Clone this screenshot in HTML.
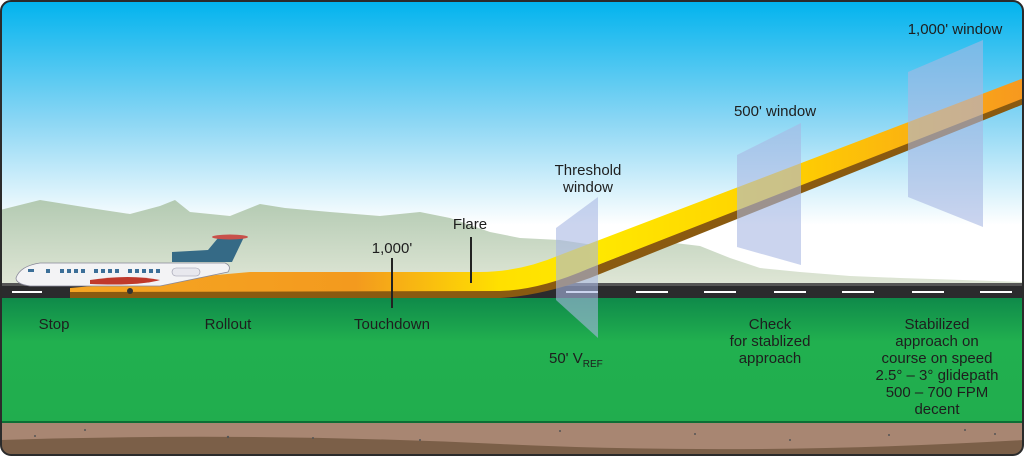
<!DOCTYPE html>
<html><head><meta charset="utf-8"><style>
html,body{margin:0;padding:0;background:#fff}
svg{display:block}
text{font-family:"Liberation Sans",sans-serif;font-size:15px;fill:#1e1e1e}
</style></head><body>
<svg width="1024" height="456" viewBox="0 0 1024 456" xmlns="http://www.w3.org/2000/svg">
<defs>
<linearGradient id="sky" x1="0" y1="0" x2="0" y2="1">
<stop offset="0" stop-color="#00b3ee"/><stop offset="0.4" stop-color="#8ad6f4"/><stop offset="0.75" stop-color="#ffffff"/><stop offset="1" stop-color="#ffffff"/></linearGradient>
<linearGradient id="grass" x1="0" y1="0" x2="0" y2="1">
<stop offset="0" stop-color="#0f8a4a"/><stop offset="0.35" stop-color="#21b04f"/><stop offset="1" stop-color="#21ad4e"/></linearGradient>
<linearGradient id="hill" x1="0" y1="0" x2="0" y2="1">
<stop offset="0" stop-color="#b3cab2"/><stop offset="1" stop-color="#e2e8d8"/></linearGradient>
<linearGradient id="path" x1="0" y1="0" x2="1" y2="0">
<stop offset="0" stop-color="#f6a623"/><stop offset="0.3" stop-color="#f39a1e"/><stop offset="0.45" stop-color="#ffe000"/><stop offset="0.55" stop-color="#ffe800"/><stop offset="0.75" stop-color="#ffd000"/><stop offset="1" stop-color="#f7981f"/></linearGradient>
<clipPath id="c"><rect x="1" y="1" width="1022" height="454" rx="10"/></clipPath>
</defs>
<g clip-path="url(#c)">
<rect width="1024" height="300" fill="url(#sky)"/>
<path d="M0 210 L40 200 L90 208 L130 214 L160 206 L175 200 L190 212 L230 216 L260 204 L285 208 L330 212 L380 216 L420 212 L450 218 L490 232 L520 238 L560 240 L600 246 L650 240 L700 246 L730 258 L760 268 L800 272 L850 276 L900 278 L1024 282 L1024 290 L0 290Z" fill="url(#hill)"/>
<rect x="0" y="283" width="1024" height="16" fill="#2b2b2d"/>
<rect x="0" y="283" width="1024" height="3" fill="#555"/>
<g stroke="#fff" stroke-width="2">
<line x1="12" y1="292" x2="42" y2="292"/>
<path d="M566 292h32M636 292h32M704 292h32M774 292h32M842 292h32M912 292h32M980 292h32" />
</g>
<rect x="0" y="298" width="1024" height="125" fill="url(#grass)"/>
<rect x="0" y="421" width="1024" height="3" fill="#0c6e35"/>
<rect x="0" y="423" width="1024" height="33" fill="#a88672"/>
<path d="M0 440 Q250 432 500 444 T1024 440 L1024 456 L0 456Z" fill="#7b5f48"/>
<g fill="#555"><circle cx="35" cy="436" r="1"/><circle cx="85" cy="430" r="1"/><circle cx="228" cy="437" r="1.2"/><circle cx="313" cy="438" r="1"/><circle cx="420" cy="440" r="1"/><circle cx="560" cy="431" r="1"/><circle cx="695" cy="434" r="1"/><circle cx="790" cy="440" r="1"/><circle cx="889" cy="435" r="1"/><circle cx="965" cy="430" r="1"/><circle cx="995" cy="434" r="1"/></g>
<path d="M70 298 L500 298 Q540 296 590 278 L1024 104 L1024 96 L590 268 Q540 288 500 290 L70 290Z" fill="#8a5a10"/>
<path d="M70 288 L250 272 L480 272 Q520 272 560 255 L1024 78 L1024 98 L590 268 Q540 290 500 291 L70 292Z" fill="url(#path)"/>
<g fill="#a8b8e2" fill-opacity="0.6">
<polygon points="556,228 598,197 598,338 556,300"/>
<polygon points="737,155 801,123 801,265 737,247"/>
<polygon points="908,72 983,40 983,227 908,197"/>
</g>
<path d="M172 252 L208 250 L218 238 L244 237 L232 262 L172 262Z" fill="#356a86"/>
<ellipse cx="230" cy="237" rx="18" ry="2.5" fill="#c8504a"/>
<path d="M16 278 Q20 266 40 263 L225 263 Q232 266 228 272 L160 286 L30 286 Q16 284 16 278Z" fill="#f3f3f5" stroke="#889" stroke-width="0.8"/>
<path d="M90 280 Q130 274 160 280 Q140 286 90 284Z" fill="#c0392b"/>
<rect x="172" y="268" width="28" height="8" rx="4" fill="#e8e8ee" stroke="#99a" stroke-width="0.6"/>
<g fill="#3c6f98"><rect x="46" y="269" width="4" height="4"/><rect x="60" y="269" width="4" height="4"/><rect x="67" y="269" width="4" height="4"/><rect x="74" y="269" width="4" height="4"/><rect x="81" y="269" width="4" height="4"/><rect x="94" y="269" width="4" height="4"/><rect x="101" y="269" width="4" height="4"/><rect x="108" y="269" width="4" height="4"/><rect x="115" y="269" width="4" height="4"/><rect x="128" y="269" width="4" height="4"/><rect x="135" y="269" width="4" height="4"/><rect x="142" y="269" width="4" height="4"/><rect x="149" y="269" width="4" height="4"/><rect x="156" y="269" width="4" height="4"/><rect x="28" y="269" width="6" height="3"/></g>
<circle cx="130" cy="291" r="3" fill="#333"/>
<line x1="392" y1="258" x2="392" y2="308" stroke="#222" stroke-width="2"/>
<line x1="471" y1="237" x2="471" y2="283" stroke="#222" stroke-width="2"/>
</g>
<rect x="1" y="1" width="1022" height="454" rx="10" fill="none" stroke="#2b2b2b" stroke-width="2"/>
<g text-anchor="middle">
<text x="955" y="34">1,000' window</text>
<text x="775" y="116">500' window</text>
<text x="588" y="175">Threshold</text>
<text x="588" y="192">window</text>
<text x="470" y="229">Flare</text>
<text x="392" y="253">1,000'</text>
<text x="54" y="329">Stop</text>
<text x="228" y="329">Rollout</text>
<text x="392" y="329">Touchdown</text>
<text x="770" y="329">Check</text>
<text x="770" y="346">for stablized</text>
<text x="770" y="363">approach</text>
<text x="937" y="329">Stabilized</text>
<text x="937" y="346">approach on</text>
<text x="937" y="363">course on speed</text>
<text x="937" y="380">2.5° – 3° glidepath</text>
<text x="937" y="397">500 – 700 FPM</text>
<text x="937" y="414">decent</text>
</g>
<text x="549" y="363">50' V<tspan font-size="10" dy="4">REF</tspan></text>
</svg>
</body></html>
